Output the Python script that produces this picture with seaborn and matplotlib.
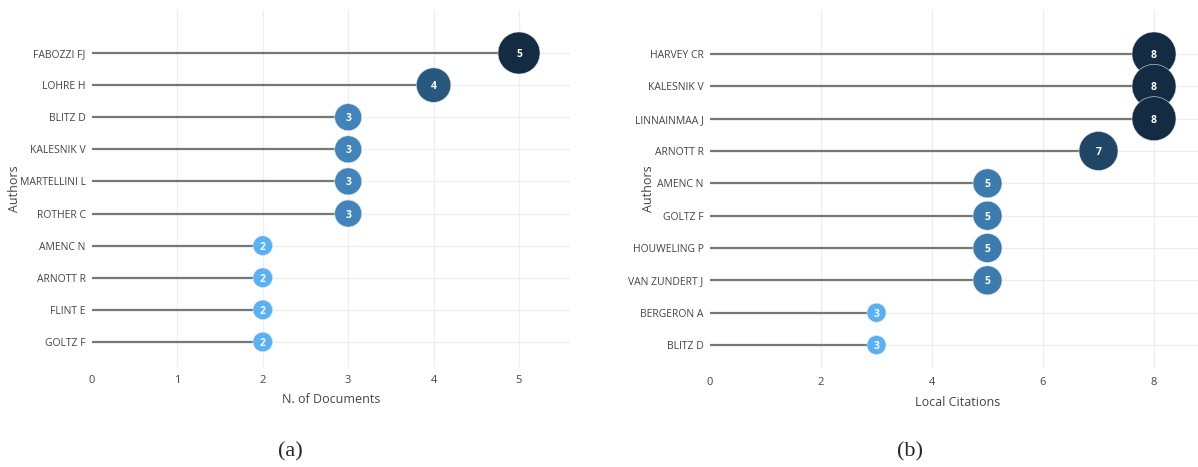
import numpy as np
import pandas as pd
import matplotlib
matplotlib.use("Agg")
import matplotlib.pyplot as plt
from matplotlib.colors import LinearSegmentedColormap
import seaborn as sns

# Most productive authors (panel a)
authors_docs = ["FABOZZI FJ", "LOHRE H", "BLITZ D", "KALESNIK V", "MARTELLINI L",
                "ROTHER C", "AMENC N", "ARNOTT R", "FLINT E", "GOLTZ F"]
n_documents = [5, 4, 3, 3, 3, 3, 2, 2, 2, 2]

# Most locally cited authors (panel b)
authors_cit = ["HARVEY CR", "KALESNIK V", "LINNAINMAA J", "ARNOTT R", "AMENC N",
               "GOLTZ F", "HOUWELING P", "VAN ZUNDERT J", "BERGERON A", "BLITZ D"]
local_citations = [8, 8, 8, 7, 5, 5, 5, 5, 3, 3]

x_ticks_docs = [0, 1, 2, 3, 4, 5]
x_ticks_cit = [0, 2, 4, 6, 8]

sns.set_style("white")
plt.rcParams["font.family"] = ["Open Sans", "DejaVu Sans"]

W, H = 1198, 467
fig = plt.figure(figsize=(W / 100, H / 100), dpi=100)

cmap = LinearSegmentedColormap.from_list("lollipop", ["#56B1F7", "#132B43"])
TXT = "#444444"
STEM = "#777777"
GRID = "#eeeeee"


def lollipop(ax, names, values, xlim, ylim, xticks, d_min, d_max, xlabel,
             xpad, xlabel_y, ylabel_x):
    vals = np.asarray(values)
    pos = np.arange(len(names))
    vmin, vmax = vals.min(), vals.max()
    # marker diameter grows linearly with the value (pixels -> points)
    levels = sorted(set(values))
    sizes = {v: ((d_min + (d_max - d_min) * (v - vmin) / (vmax - vmin)) * 0.72) ** 2
             for v in levels}
    df = pd.DataFrame({"author": names, "value": vals, "pos": pos})

    ax.hlines(df["pos"], 0, df["value"], color=STEM, lw=1.6, zorder=2)
    sns.scatterplot(data=df, x="value", y="pos", hue="value", palette=cmap,
                    hue_norm=(vmin, vmax), size="value", sizes=sizes,
                    legend=False, ax=ax, edgecolor="#dfe6ee", linewidth=0.4,
                    alpha=1, zorder=3)
    for p, v in zip(pos, vals):
        ax.text(v, p, str(v), ha="center", va="center_baseline", color="white",
                fontsize=7.5, fontweight="bold", zorder=4)

    ax.set_xlim(*xlim)
    ax.set_ylim(*ylim)
    ax.set_xticks(xticks)
    ax.set_xticklabels([str(t) for t in xticks])
    ax.set_yticks(pos)
    ax.set_yticklabels(names)
    ax.tick_params(axis="x", length=0, pad=xpad, labelsize=8, labelcolor=TXT)
    ax.tick_params(axis="y", length=4, width=1.3, color=STEM, pad=0.5,
                   labelsize=7.5, labelcolor=TXT)
    for s in ax.spines.values():
        s.set_visible(False)
    ax.grid(True, color=GRID, lw=0.9, zorder=0)
    ax.set_axisbelow(True)
    ax.xaxis.get_gridlines()[0].set_visible(False)

    ax.set_xlabel(xlabel, fontsize=9, color=TXT)
    ax.set_ylabel("Authors", fontsize=9, color=TXT)
    ax.xaxis.set_label_coords(0.5, xlabel_y)
    ax.yaxis.set_label_coords(ylabel_x, 0.5)


ax1 = fig.add_axes([92 / W, 1 - 367 / H, 478 / W, 357.5 / H])
lollipop(ax1, authors_docs, n_documents, (0, 478 / 85.4), (9.78, -1.355),
         x_ticks_docs, 19.5, 42, "N. of Documents", 5.5, -0.072, -0.1485)

ax2 = fig.add_axes([710 / W, 1 - 368 / H, 496 / W, 358.5 / H])
lollipop(ax2, authors_cit, local_citations, (0, 496 / 55.5), (9.71, -1.376),
         x_ticks_cit, 19, 44, "Local Citations", 6.5, -0.078, -0.111)

fig.text(290 / W, 1 - 452 / H, "(a)", ha="center", va="center", fontsize=16,
         family=["Liberation Serif", "DejaVu Serif"])
fig.text(910 / W, 1 - 452 / H, "(b)", ha="center", va="center", fontsize=16,
         family=["Liberation Serif", "DejaVu Serif"])

fig.savefig("out.png", dpi=100, facecolor="white")
